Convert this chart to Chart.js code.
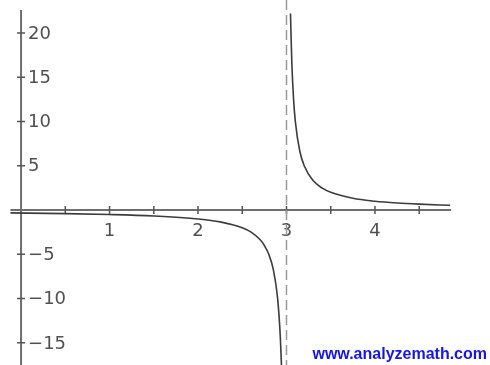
<!DOCTYPE html>
<html>
<head>
<meta charset="utf-8">
<script src="https://cdn.jsdelivr.net/npm/chart.js@4.4.1/dist/chart.umd.min.js"></script>
<style>
  html, body { margin: 0; padding: 0; background: #fff; }
  #graph { display: block; }
</style>
</head>
<body>
<canvas id="graph" width="490" height="365"></canvas>
<script>
// f(x) left of the asymptote
const leftX = [-0.12, 0.5, 1, 1.5, 2, 2.25, 2.5, 2.6, 2.7, 2.75, 2.8, 2.85, 2.9, 2.93, 2.943];
const leftY = [-0.32, -0.4, -0.5, -0.67, -1, -1.33, -2, -2.5, -3.33, -4, -5, -6.67, -10, -14.3, -17.5];

// f(x) right of the asymptote
const rightX = [3.045, 3.06, 3.08, 3.1, 3.15, 3.2, 3.3, 3.4, 3.5, 3.75, 4, 4.25, 4.5, 4.85];
const rightY = [22.2, 16.7, 12.5, 10, 6.67, 5, 3.33, 2.5, 2, 1.33, 1, 0.8, 0.67, 0.54];

// vertical asymptote
const asymptoteX = 3;

// tick labels
const xTicks = [1, 2, 3, 4];
const xMinorTicks = [0.5, 1, 1.5, 2, 2.5, 3, 3.5, 4, 4.5];
const yTicks = [-15, -10, -5, 5, 10, 15, 20];

const X_MIN = -0.238, X_MAX = 5.3;
const Y_MIN = -17.5, Y_MAX = 23.73;
const AXIS_X_END = 4.86;

function toPoints(xs, ys) {
    return xs.map((x, i) => ({ x: x, y: ys[i] }));
}

// draws the axes through the origin, ticks and labels
const crossAxes = {
    id: 'crossAxes',
    beforeDatasetsDraw(chart) {
        const ctx = chart.ctx;
        const sx = chart.scales.x, sy = chart.scales.y;
        const x0 = sx.getPixelForValue(0);
        const y0 = sy.getPixelForValue(0);
        ctx.save();
        ctx.strokeStyle = '#6e6e6e';
        ctx.lineWidth = 2;
        ctx.beginPath();
        ctx.moveTo(x0, 10);
        ctx.lineTo(x0, chart.height);
        ctx.moveTo(sx.getPixelForValue(leftX[0]), y0);
        ctx.lineTo(sx.getPixelForValue(AXIS_X_END), y0);
        ctx.stroke();

        ctx.lineWidth = 1.5;
        ctx.strokeStyle = '#555';
        ctx.beginPath();
        yTicks.forEach(v => {
            const p = sy.getPixelForValue(v);
            ctx.moveTo(x0 - 4, p);
            ctx.lineTo(x0 + 4, p);
        });
        xMinorTicks.forEach(v => {
            const p = sx.getPixelForValue(v);
            ctx.moveTo(p, y0 - 4);
            ctx.lineTo(p, y0 + 4);
        });
        ctx.stroke();

        ctx.fillStyle = '#505050';
        ctx.font = '18px "DejaVu Sans", sans-serif';
        ctx.textBaseline = 'middle';
        ctx.textAlign = 'left';
        yTicks.forEach(v => {
            const label = v < 0 ? '\u2212' + Math.abs(v) : String(v);
            ctx.fillText(label, x0 + 7, sy.getPixelForValue(v) + 1);
        });
        ctx.textAlign = 'center';
        xTicks.forEach(v => {
            ctx.fillText(String(v), sx.getPixelForValue(v), y0 + 21);
        });
        ctx.restore();
    },
    afterDraw(chart) {
        const ctx = chart.ctx;
        ctx.save();
        ctx.fillStyle = '#1414f0';
        ctx.font = 'bold 16px "Liberation Sans", Arial, sans-serif';
        ctx.textAlign = 'right';
        ctx.textBaseline = 'middle';
        ctx.fillText('www.analyzemath.com', 487, 355);
        ctx.restore();
    }
};

new Chart(document.getElementById('graph'), {
    type: 'scatter',
    data: {
        datasets: [
            {
                data: [{ x: asymptoteX, y: Y_MAX }, { x: asymptoteX, y: Y_MIN }],
                showLine: true,
                borderColor: '#9a9a9a',
                borderWidth: 1.5,
                borderDash: [10, 5],
                pointRadius: 0
            },
            {
                data: toPoints(leftX, leftY),
                showLine: true,
                borderColor: '#3c3c3c',
                borderWidth: 1.6,
                cubicInterpolationMode: 'monotone',
                pointRadius: 0
            },
            {
                data: toPoints(rightX, rightY),
                showLine: true,
                borderColor: '#3c3c3c',
                borderWidth: 1.6,
                cubicInterpolationMode: 'monotone',
                pointRadius: 0
            }
        ]
    },
    options: {
        responsive: false,
        animation: false,
        layout: { padding: 0 },
        plugins: {
            legend: { display: false },
            tooltip: { enabled: false }
        },
        scales: {
            x: { type: 'linear', display: false, min: X_MIN, max: X_MAX },
            y: { type: 'linear', display: false, min: Y_MIN, max: Y_MAX }
        }
    },
    plugins: [crossAxes]
});
</script>
</body>
</html>
